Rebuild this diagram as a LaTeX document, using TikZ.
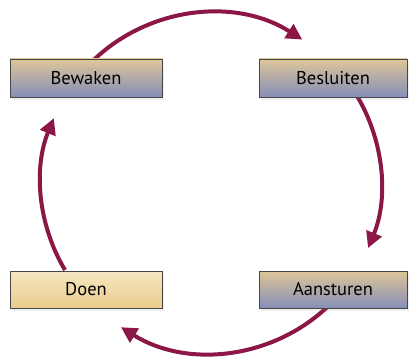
\documentclass[tikz,border=0pt]{standalone}
\usepackage{fontspec}
\setmainfont{PT Sans}
\usetikzlibrary{arrows.meta,shadows,calc}
\definecolor{arrowred}{RGB}{140,22,70}
\definecolor{tantop}{RGB}{222,198,152}
\definecolor{bluebot}{RGB}{134,142,184}
\definecolor{yeltop}{RGB}{246,231,194}
\definecolor{yelbot}{RGB}{234,203,140}
\definecolor{boxline}{RGB}{70,70,70}
\tikzset{
  stagebox/.style={draw=boxline, line width=0.8pt, minimum height=38pt,
    font=\fontsize{18.5}{20}\selectfont, text=black,
    drop shadow={opacity=0.12, shadow xshift=2pt, shadow yshift=-3pt}},
  bluebox/.style={stagebox, top color=tantop, bottom color=bluebot},
  yellowbox/.style={stagebox, top color=yeltop, bottom color=yelbot},
  cyclearrow/.style={draw=arrowred, line width=4pt,
    -{Triangle[length=16pt,width=16pt]}}
}
\begin{document}
\begin{tikzpicture}[x=1pt,y=1pt]
\useasboundingbox (0,0) rectangle (409,356);
\fill[white] (0,0) rectangle (409,356);
\coordinate (c) at (211,173);
\coordinate (s1) at ($(c)+(133.6:170)$);
\coordinate (s2) at ($(c)+(30.5:170)$);
\coordinate (s3) at ($(c)+(-46.9:170)$);
\coordinate (s4) at ($(c)+(210.8:170)$);
\draw[cyclearrow] (s1) arc[start angle=133.6, end angle=57.5, radius=170];
\draw[cyclearrow] (s2) arc[start angle=30.5, end angle=-22.5, radius=170];
\draw[cyclearrow] (s3) arc[start angle=-46.9, end angle=-122, radius=170];
\draw[cyclearrow] (s4) arc[start angle=210.8, end angle=157.6, radius=170];
\node[bluebox, minimum width=152pt] (bewaken) at (86,278) {Bewaken};
\node[bluebox, minimum width=148pt] (besluiten) at (333,278) {Besluiten};
\node[yellowbox, minimum width=152pt, minimum height=37pt] (doen) at (86,66.5) {Doen};
\node[bluebox, minimum width=148pt, minimum height=37pt] (aansturen) at (333,66.5) {Aansturen};
\end{tikzpicture}
\end{document}
